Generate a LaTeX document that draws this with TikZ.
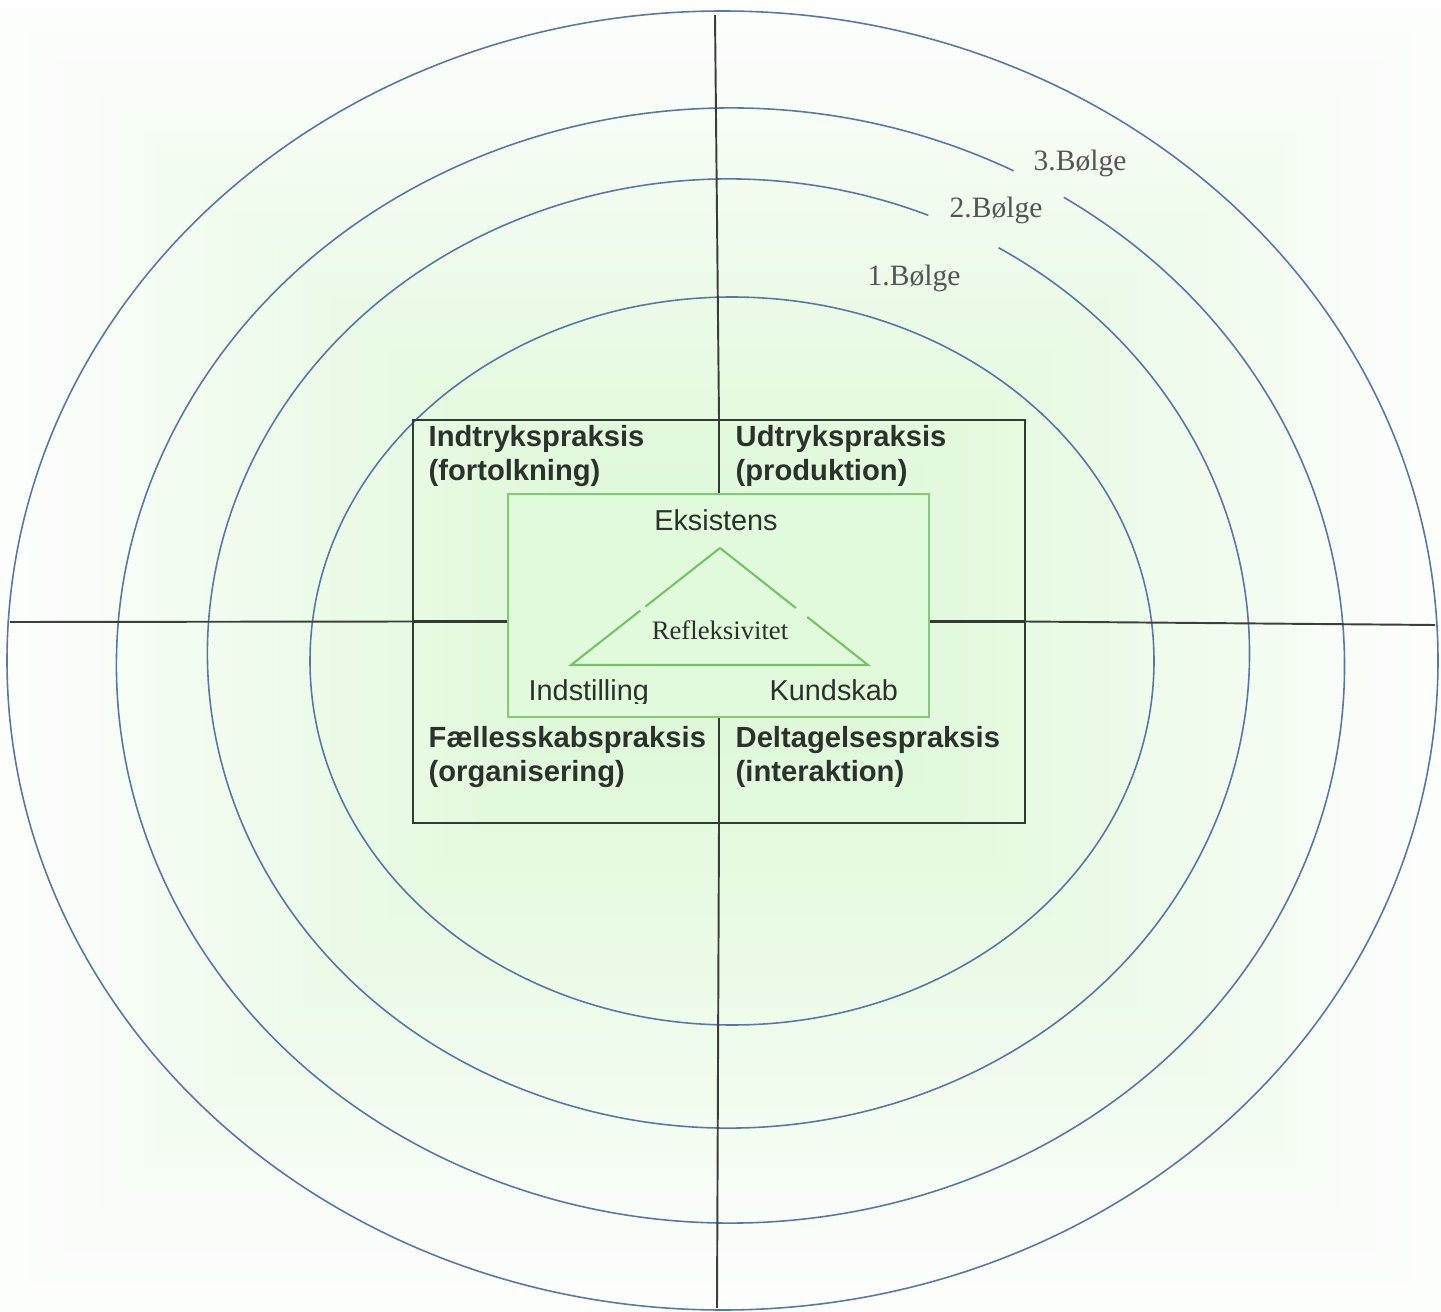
\documentclass[tikz,border=0pt]{standalone}
\usepackage{fontspec}
\setmainfont{Liberation Serif}
\setsansfont{Liberation Sans}
\usetikzlibrary{
  positioning,
  calc
}
\definecolor{ringblue}{HTML}{5877A8}
\definecolor{axisgray}{HTML}{3A3F3A}
\definecolor{boxline}{HTML}{2F3D2F}
\definecolor{triline}{HTML}{74C464}
\definecolor{coreline}{HTML}{80CC72}
\definecolor{corefill}{HTML}{E2FADC}
\definecolor{bgcenter}{HTML}{DFF8D9}
\definecolor{bgedge}{HTML}{FCFEFC}
\definecolor{wavegray}{HTML}{555555}
\definecolor{textdark}{HTML}{2B312B}

\begin{document}
\begin{tikzpicture}[
  x=0.1mm, y=0.1mm,
  ring/.style={draw=ringblue, line width=0.45pt},
  axis/.style={draw=axisgray, line width=0.55pt},
  praksis/.style={font=\sffamily\bfseries\fontsize{8.3}{9.7}\selectfont, text=textdark,
    align=left, anchor=north west, inner sep=0pt},
  pole/.style={font=\sffamily\fontsize{8.2}{10}\selectfont, text=textdark, inner sep=0pt},
  wave/.style={font=\fontsize{8.4}{10}\selectfont, text=wavegray, inner sep=0pt, anchor=base west},
]
  \useasboundingbox (0,0) rectangle (1441,-1312);
  \fill[white] (0,0) rectangle (1441,-1312);

  % Background: soft green towards the middle
  \foreach \i in {0,...,39}{
    \pgfmathsetmacro\t{\i/39}
    \pgfmathsetmacro\p{100*\t}
    \fill[bgcenter!\p!bgedge] ({560*\t},{-8-492*\t}) rectangle ({1441-561*\t},{-1312+572*\t});
  }

  % Centres of the waves
  \coordinate (c1) at (732,-661);
  \coordinate (c2) at (728.5,-653.5);
  \coordinate (c3) at (730.5,-665.5);
  \coordinate (c4) at (722.5,-660.5);

  % Waves
  \draw[ring] (c1) ellipse [x radius=422, y radius=364];
  \draw[ring] (c2) ++(67.44:521 and 474.5)
    arc[start angle=67.44, end angle=418.78, x radius=521, y radius=474.5];
  \draw[ring] (c3) ++(62.54:614 and 557.5)
    arc[start angle=62.54, end angle=417.12, x radius=614, y radius=557.5];
  \draw[ring] (c4) ellipse [x radius=715.5, y radius=649.5];

  % Practice box and core
  \node[draw=boxline, line width=0.6pt, minimum width=61.2mm, minimum height=40.3mm,
    inner sep=0pt] (praxis) at (719,-621.5) {};
  \node[draw=coreline, fill=corefill, line width=0.7pt, minimum width=42.1mm,
    minimum height=22.3mm, inner sep=0pt] (core) at (718.5,-605.5) {};

  % Axes
  \coordinate (top) at (715,-15);
  \coordinate (bot) at (717,-1308);
  \coordinate (lft) at (10,-622);
  \coordinate (rgt) at (1435,-625);
  \draw[axis] (top) -- (praxis.north);
  \draw[axis] (praxis.south) -- (bot);
  \draw[axis] (lft) -- (praxis.west);
  \draw[axis] (praxis.east) -- (rgt);

  % Box dividers
  \draw[boxline, line width=0.6pt] (praxis.north) -- (praxis.north |- core.north);
  \draw[boxline, line width=0.6pt] (praxis.south |- core.south) -- (praxis.south);
  \draw[boxline, line width=0.6pt] (praxis.west) -- (praxis.west -| core.west);
  \draw[boxline, line width=0.6pt] (praxis.east) -- (praxis.east -| core.east);

  % Triangle
  \coordinate (apex) at (720,-548);
  \coordinate (lbase) at (571,-665);
  \coordinate (rbase) at (868,-665);
  \draw[triline, line width=0.6pt]
    (apex) -- ($(apex)!0.50!(lbase)$)
    ($(apex)!0.535!(lbase)$) -- (lbase) -- (rbase) -- ($(apex)!0.59!(rbase)$)
    ($(apex)!0.513!(rbase)$) -- (apex);

  \node[font=\fontsize{7.6}{9}\selectfont, text=textdark, inner sep=0pt] (refl)
    at (720,-630) {Refleksivitet};
  \node[pole, anchor=base] (eks) at (716,-530) {Eksistens};
  \begin{scope}
    \clip (core.north west) rectangle ($(core.south east)+(0,15)$);
    \node[pole, anchor=base west] (indst) at (528,-700) {Indstilling};
    \node[pole, anchor=base west] (kund) at (769,-700) {Kundskab};
  \end{scope}

  % Practices
  \node[praksis] (indtryk) at (428,-425) {Indtrykspraksis\\(fortolkning)};
  \node[praksis] (udtryk) at (735,-425) {Udtrykspraksis\\(produktion)};
  \node[praksis] (faelles) at (428,-726) {Fællesskabspraksis\\(organisering)};
  \node[praksis] (deltag) at (735,-726) {Deltagelsespraksis\\(interaktion)};

  % Wave labels
  \node[wave] (w3) at (1033,-170) {3.Bølge};
  \node[wave] (w2) at (949,-217) {2.Bølge};
  \node[wave] (w1) at (867,-285) {1.Bølge};
\end{tikzpicture}
\end{document}
